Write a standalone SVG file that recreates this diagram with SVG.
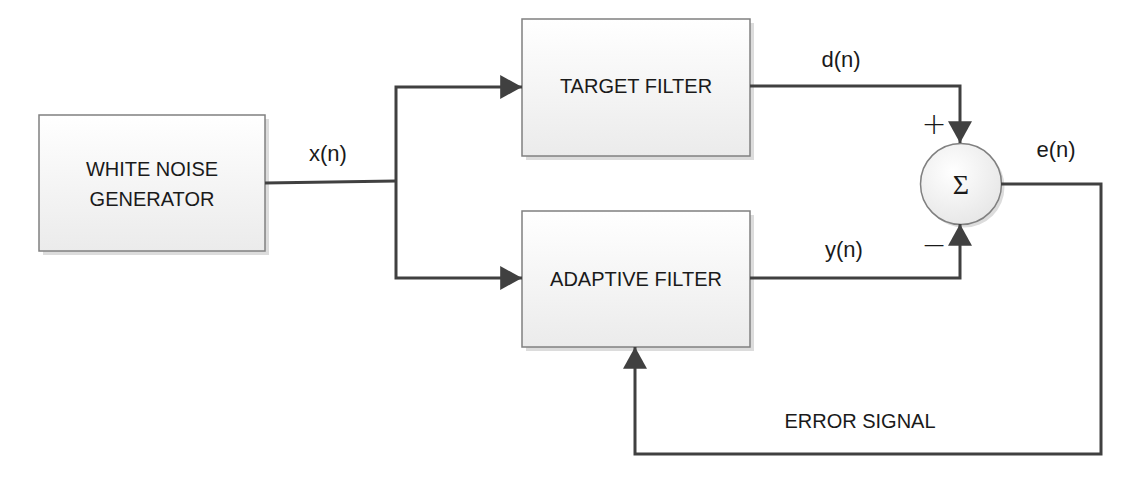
<svg xmlns="http://www.w3.org/2000/svg" width="1129" height="493" viewBox="0 0 1129 493">
  <defs>
    <linearGradient id="boxFill" x1="0" y1="0" x2="0" y2="1">
      <stop offset="0" stop-color="#ffffff"/>
      <stop offset="1" stop-color="#ebebeb"/>
    </linearGradient>
    <radialGradient id="circFill" cx="0.4" cy="0.35" r="0.7">
      <stop offset="0" stop-color="#ffffff"/>
      <stop offset="1" stop-color="#e6e6e6"/>
    </radialGradient>
    <marker id="arrow" markerUnits="userSpaceOnUse" markerWidth="22" markerHeight="24" viewBox="0 0 20 22" refX="20" refY="11" orient="auto">
      <path d="M0,0 L20,11 L0,22 Z" fill="#404040"/>
    </marker>
  </defs>
  <style>
    .shadow { fill: #dcdcdc; }
    .box { fill: url(#boxFill); stroke: #808080; stroke-width: 1.5; }
    .lbl { font-family: "Liberation Sans", Arial, sans-serif; font-size: 20px; fill: #1a1a1a; text-anchor: middle; }
    .sig { font-family: "Liberation Sans", Arial, sans-serif; font-size: 22px; fill: #1a1a1a; text-anchor: middle; }
    .conn { fill: none; stroke: #404040; stroke-width: 3; }
  </style>
  <rect width="1129" height="493" fill="#ffffff"/>

  <g id="white-noise-generator">
    <rect class="shadow" x="43" y="119" width="226" height="136"/>
    <rect class="box" x="39" y="115" width="226" height="136"/>
    <text class="lbl" x="152" y="176" font-size="21.5">WHITE NOISE</text>
    <text class="lbl" x="152" y="206" font-size="21.5">GENERATOR</text>
  </g>

  <g id="target-filter">
    <rect class="shadow" x="526" y="23" width="228" height="137"/>
    <rect class="box" x="522" y="19" width="228" height="137"/>
    <text class="lbl" x="636" y="93">TARGET FILTER</text>
  </g>

  <g id="adaptive-filter">
    <rect class="shadow" x="526" y="215" width="228" height="136"/>
    <rect class="box" x="522" y="211" width="228" height="136"/>
    <text class="lbl" x="636" y="286">ADAPTIVE FILTER</text>
  </g>

  <g id="summer">
    <circle cx="964" cy="187" r="40.5" fill="#dcdcdc"/>
    <circle cx="961" cy="184" r="40.5" fill="url(#circFill)" stroke="#808080" stroke-width="1.5"/>
    <text x="961" y="194" font-family="Liberation Serif, 'Times New Roman', serif" font-size="28" fill="#1a1a1a" text-anchor="middle">Σ</text>
  </g>

  <g id="connectors">
    <polyline class="conn" points="265,183 396,181"/>
    <polyline class="conn" points="396,181 396,87 522,87" marker-end="url(#arrow)"/>
    <polyline class="conn" points="396,181 396,278 522,278" marker-end="url(#arrow)"/>
    <polyline class="conn" points="750,86 960,86 960,143" marker-end="url(#arrow)"/>
    <polyline class="conn" points="750,278 960,278 960,224" marker-end="url(#arrow)"/>
    <polyline class="conn" points="1001,184 1101,184 1101,454 635,454 635,347" marker-end="url(#arrow)"/>
  </g>

  <g id="labels">
    <text class="sig" x="328" y="161">x(n)</text>
    <text class="sig" x="841" y="67">d(n)</text>
    <text class="sig" x="844" y="257">y(n)</text>
    <text class="sig" x="1056" y="157">e(n)</text>
    <text class="lbl" x="860" y="428">ERROR SIGNAL</text>
    <text x="934" y="134" font-family="'DejaVu Sans', sans-serif" font-size="30" font-weight="200" fill="#1a1a1a" text-anchor="middle">+</text>
    <text x="934" y="255" font-family="'DejaVu Sans', sans-serif" font-size="30" font-weight="200" fill="#1a1a1a" text-anchor="middle">−</text>
  </g>
</svg>
